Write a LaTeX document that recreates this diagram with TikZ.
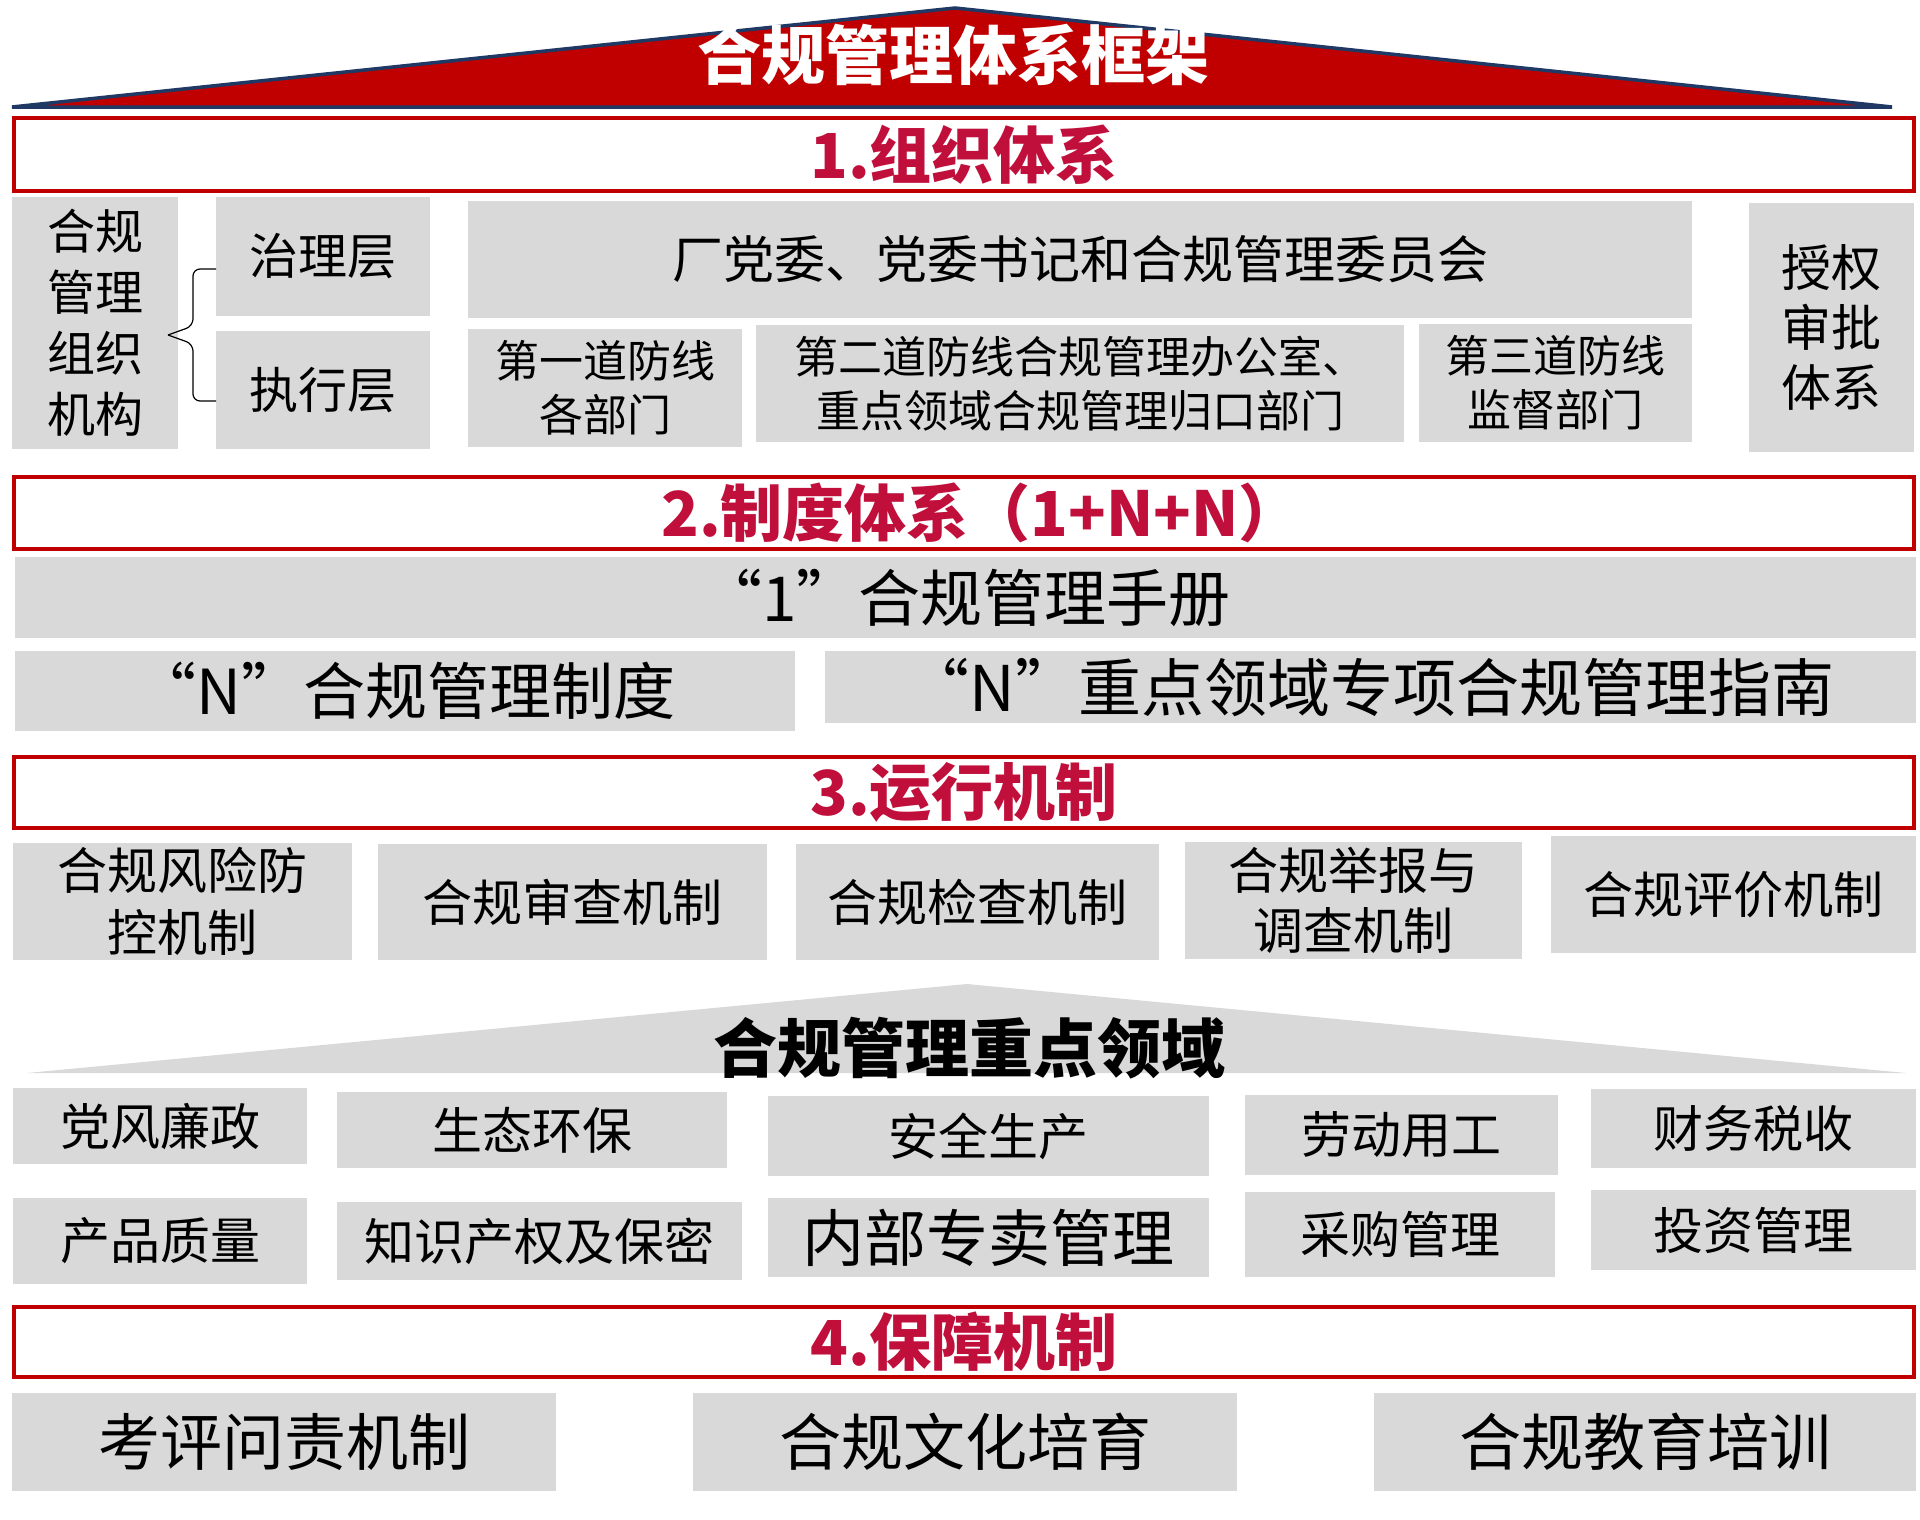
\documentclass[tikz,border=0pt]{standalone}
\usepackage{fontspec}
\setmainfont{Noto Sans CJK SC}
\usetikzlibrary{calc}
\definecolor{boxgray}{HTML}{D9D9D9}
\definecolor{framered}{HTML}{C00000}
\definecolor{headred}{HTML}{C00F3A}
\definecolor{roofline}{HTML}{1F3864}
\begin{document}
\begin{tikzpicture}[x=1pt,y=-1pt,
  gbox/.style={fill=boxgray, inner sep=0pt, outer sep=0pt, align=center, text=black},
  redbox/.style={draw=framered, line width=4pt, fill=white, inner sep=0pt, align=center, text=headred, font=\bfseries\fontsize{62}{70}\selectfont},
  fa/.style={font=\fontsize{50}{62}\selectfont},
  fb/.style={font=\fontsize{44}{54}\selectfont},
  fc/.style={font=\fontsize{62}{70}\selectfont},
  roofstyle/.style={font=\bfseries\fontsize{64}{70}\selectfont}
]
\useasboundingbox (0,0) rectangle (1920,1520);

% top roof
\path[fill=framered, draw=roofline, line width=3.5pt] (12,107) -- (955,8) -- (1892,107) -- cycle;
\node[roofstyle, text=white] (title) at (953,55) {合规管理体系框架};

% section 1
\node[redbox, minimum width=1900, minimum height=73] (h1) at (964,154.5) {1.组织体系};
\node[gbox, font=\fontsize{48}{61}\selectfont, minimum width=166, minimum height=252] (org) at (95,323) {合规\\管理\\组织\\机构};
\node[gbox, font=\fontsize{49}{58}\selectfont, minimum width=214, minimum height=119] (zhili) at (323,256.5) {治理层};
\node[gbox, font=\fontsize{49}{58}\selectfont, minimum width=214, minimum height=118] (zhixing) at (323,390) {执行层};
\node[gbox, font=\fontsize{51}{60}\selectfont, minimum width=1224, minimum height=117] (dw) at (1080,259.5) {厂党委、党委书记和合规管理委员会};
\node[gbox, fb, minimum width=274, minimum height=118] (l1) at (605,388) {第一道防线\\各部门};
\node[gbox, fb, minimum width=648, minimum height=117] (l2) at (1080,383.5) {第二道防线合规管理办公室、\\重点领域合规管理归口部门};
\node[gbox, fb, minimum width=273, minimum height=118] (l3) at (1555.5,383) {第三道防线\\监督部门};
\node[gbox, font=\fontsize{50}{60}\selectfont, minimum width=165, minimum height=249] (sq) at (1831.5,327.5) {授权\\审批\\体系};

% brace
\coordinate (bt) at ($(zhili.west)+(0,12.5)$);
\coordinate (bb) at ($(zhixing.west)+(0,11)$);
\coordinate (tip) at (168,335);
\draw[line width=1.2pt, rounded corners=7pt] (bt) -- (193,269) -- (193,326) -- (tip);
\draw[line width=1.2pt, rounded corners=7pt] (tip) -- (193,344) -- (193,401) -- (bb);

% section 2
\node[redbox, minimum width=1900, minimum height=72] (h2) at (964,513) {\hspace*{34pt}2.制度体系（1+N+N）};
\node[gbox, fc, minimum width=1901, minimum height=81] (yi) at (965.5,597.5) {“1”合规管理手册};
\node[gbox, fc, minimum width=780, minimum height=80] (n1) at (405,691) {“N”合规管理制度};
\node[gbox, font=\fontsize{63}{70}\selectfont, minimum width=1091, minimum height=72] (n2) at (1370.5,687) {“N”重点领域专项合规管理指南};

% section 3
\node[redbox, minimum width=1900, minimum height=71] (h3) at (964,792.5) {3.运行机制};
\node[gbox, fa, minimum width=339, minimum height=117] (r1) at (182.5,901.5) {合规风险防\\控机制};
\node[gbox, fa, minimum width=389, minimum height=116] (r2) at (572.5,902) {合规审查机制};
\node[gbox, fa, minimum width=363, minimum height=116] (r3) at (977.5,902) {合规检查机制};
\node[gbox, font=\fontsize{50}{60}\selectfont, minimum width=337, minimum height=117] (r4) at (1353.5,900.5) {合规举报与\\调查机制};
\node[gbox, fa, minimum width=365, minimum height=117] (r5) at (1733.5,894.5) {合规评价机制};

% middle roof
\path[fill=boxgray] (27,1073) -- (967,984) -- (1906,1073) -- cycle;
\node[roofstyle, text=black] (focus) at (969,1048) {合规管理重点领域};

% domains
\node[gbox, fa, minimum width=294, minimum height=76] (d1) at (160,1126) {党风廉政};
\node[gbox, fa, minimum width=390, minimum height=76] (d2) at (532,1130) {生态环保};
\node[gbox, fa, minimum width=441, minimum height=80] (d3) at (988.5,1136) {安全生产};
\node[gbox, fa, minimum width=313, minimum height=80] (d4) at (1401.5,1135) {劳动用工};
\node[gbox, fa, minimum width=325, minimum height=79] (d5) at (1753.5,1128.5) {财务税收};
\node[gbox, fa, minimum width=294, minimum height=86] (d6) at (160,1241) {产品质量};
\node[gbox, fa, minimum width=405, minimum height=78] (d7) at (539.5,1241) {知识产权及保密};
\node[gbox, fc, minimum width=441, minimum height=79] (d8) at (988.5,1237.5) {内部专卖管理};
\node[gbox, fa, minimum width=310, minimum height=85] (d9) at (1400,1234.5) {采购管理};
\node[gbox, fa, minimum width=325, minimum height=80] (d10) at (1753.5,1230) {投资管理};

% section 4
\node[redbox, minimum width=1900, minimum height=70] (h4) at (964,1342) {4.保障机制};
\node[gbox, fc, minimum width=544, minimum height=98] (b1) at (284,1442) {考评问责机制};
\node[gbox, fc, minimum width=544, minimum height=98] (b2) at (965,1442) {合规文化培育};
\node[gbox, fc, minimum width=542, minimum height=98] (b3) at (1645,1442) {合规教育培训};
\end{tikzpicture}
\end{document}
